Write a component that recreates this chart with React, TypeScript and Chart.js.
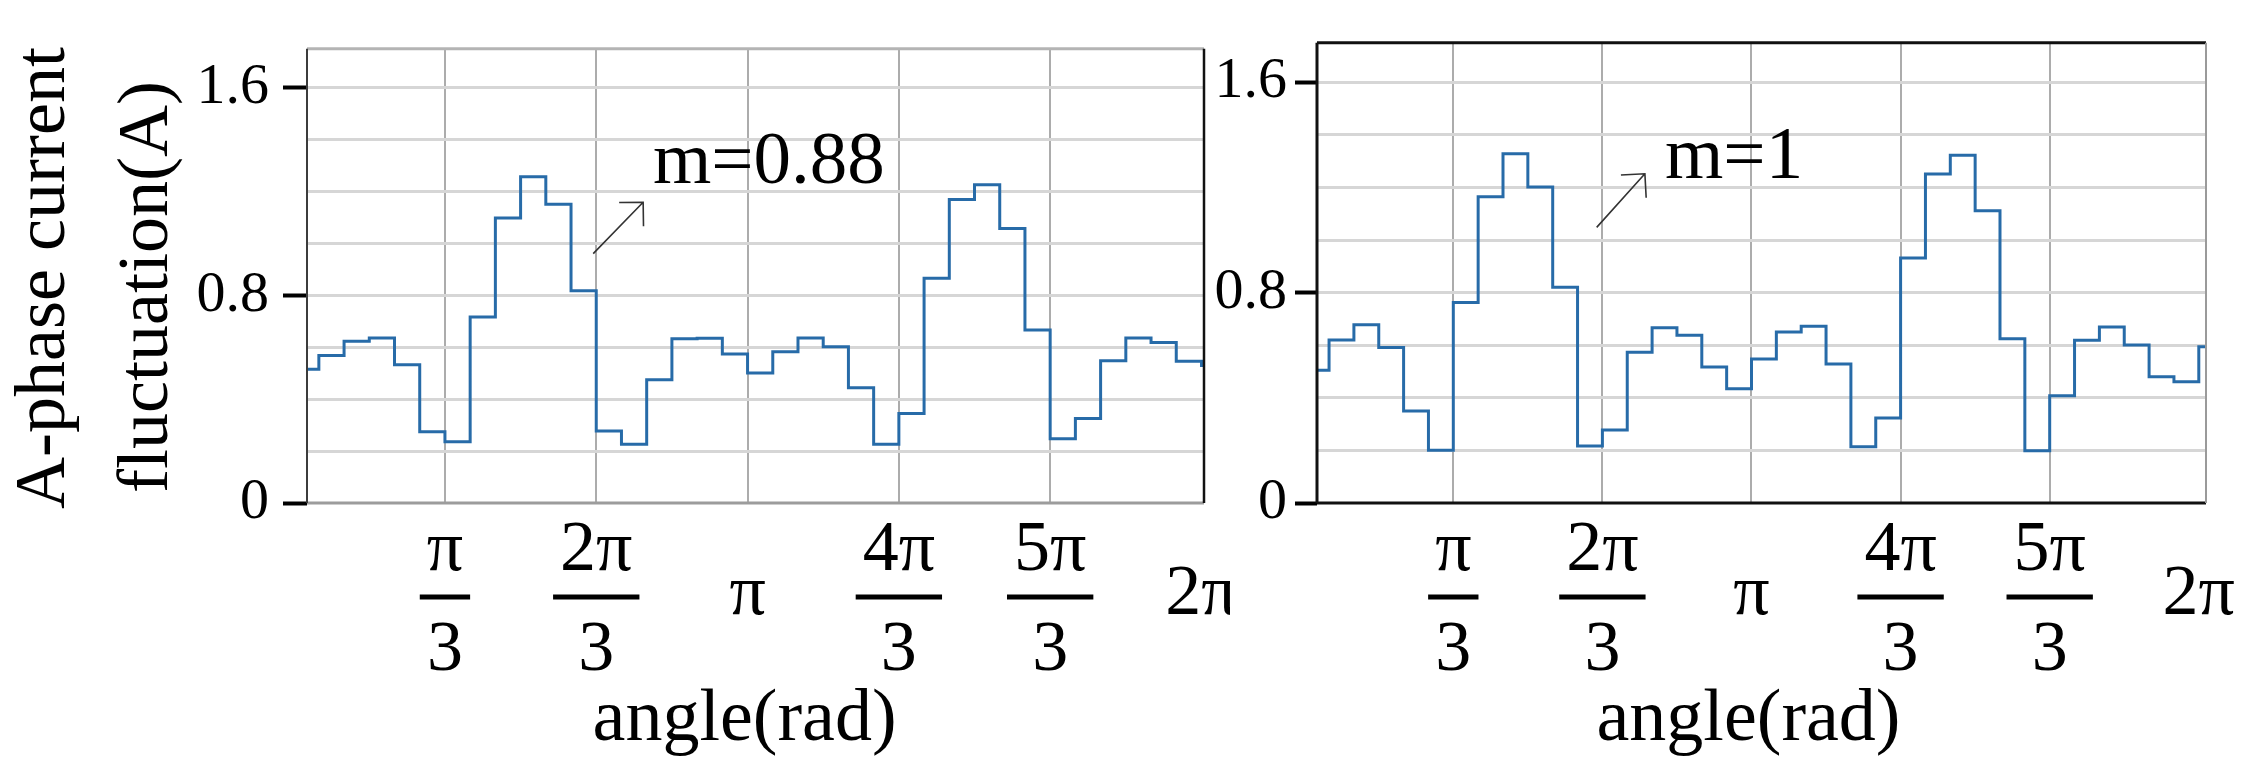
import React, { useEffect, useRef } from "react";
import { Chart, registerables } from "chart.js";

Chart.register(...registerables);

// ---------- data ----------
// step edges of the sampled current (degrees of electrical angle, 10° per step)
const angleEdgesDeg = [
  0, 10, 20, 30, 40, 50, 60, 70, 80, 90, 100, 110, 120, 130, 140, 150, 160, 170, 180,
  190, 200, 210, 220, 230, 240, 250, 260, 270, 280, 290, 300, 310, 320, 330, 340, 350, 360, 370,
];

// A-phase current fluctuation (A), m = 0.88
const currentM088 = [
  0.515, 0.568, 0.623, 0.636, 0.533, 0.275, 0.236, 0.717, 1.098, 1.257, 1.151, 0.818,
  0.277, 0.226, 0.475, 0.633, 0.635, 0.574, 0.501, 0.583, 0.636, 0.602, 0.444, 0.226,
  0.345, 0.866, 1.169, 1.226, 1.058, 0.667, 0.248, 0.326, 0.548, 0.636, 0.618, 0.546, 0.53,
];

// A-phase current fluctuation (A), m = 1
const currentM1 = [
  0.505, 0.62, 0.678, 0.591, 0.35, 0.201, 0.762, 1.165, 1.328, 1.202, 0.82, 0.217,
  0.278, 0.573, 0.666, 0.638, 0.517, 0.434, 0.548, 0.65, 0.672, 0.529, 0.214, 0.323,
  0.932, 1.251, 1.322, 1.111, 0.625, 0.199, 0.408, 0.619, 0.669, 0.601, 0.48, 0.461, 0.594,
];

const xTickDeg = [60, 120, 180, 240, 300, 360];
const xTickNumerators = ["π", "2π", "π", "4π", "5π", "2π"];
const xTickDenominators = ["3", "3", "", "3", "3", ""];

const yGridValues = [0, 0.2, 0.4, 0.6, 0.8, 1.0, 1.2, 1.4, 1.6];
const yLabelValues = [0, 0.8, 1.6];
const yLabels = ["0", "0.8", "1.6"];
const yMax = 1.75;

const leftXRange = [5.3, 361];
const rightXRange = [5.15, 362.9];

const xTitle = "angle(rad)";
const yTitleLines = ["A-phase current", "fluctuation(A)"];

const leftAnnotation = { label: "m=0.88", text: [142.5, 1.233], from: [118.8, 0.961], to: [138.6, 1.159] };
const rightAnnotation = { label: "m=1", text: [145.2, 1.234], from: [117.7, 1.048], to: [137.1, 1.252] };

// ---------- style ----------
const FONT = "'Liberation Serif', 'Times New Roman', serif";
const LINE_COLOR = "#276ba8";
const GRID_H = "#d6d6d6";
const GRID_V = "#acacac";
const CLEAR = "rgba(0,0,0,0)";
const H = 775;
const AREA_TOP = 33;
const AREA_BOTTOM = 503;

const decorPlugin = {
  id: "decor",
  afterDraw(chart: any, _args: any, o: any) {
    const { ctx, chartArea: a } = chart;
    const xs = chart.scales.x;
    const ys = chart.scales.y;
    ctx.save();

    const side = (st: [string, number], x1: number, y1: number, x2: number, y2: number) => {
      ctx.strokeStyle = st[0];
      ctx.lineWidth = st[1];
      ctx.beginPath();
      ctx.moveTo(x1, y1);
      ctx.lineTo(x2, y2);
      ctx.stroke();
    };
    const b = o.borders;
    side(b.top, a.left, a.top, a.right, a.top);
    side(b.bottom, a.left, a.bottom, a.right, a.bottom);
    side(b.left, a.left, a.top, a.left, a.bottom);
    side(b.right, a.right, a.top, a.right, a.bottom);

    // x tick labels (fractions of pi)
    ctx.fillStyle = "#000";
    ctx.textAlign = "center";
    ctx.textBaseline = "alphabetic";
    ctx.font = `72px ${FONT}`;
    xTickDeg.forEach((v, i) => {
      const px = xs.getPixelForValue(v);
      const num = xTickNumerators[i];
      const den = xTickDenominators[i];
      if (den) {
        ctx.fillText(num, px, 570);
        ctx.fillText(den, px, 670);
        const w = Math.max(ctx.measureText(num).width, ctx.measureText(den).width) + 14;
        ctx.fillRect(px - w / 2, 594.5, w, 5);
      } else {
        ctx.fillText(num, px, 614);
      }
    });

    // x title
    ctx.font = `74px ${FONT}`;
    ctx.fillText(o.xTitle, xs.getPixelForValue(180) - 3, 740);

    // y title
    if (o.yTitle) {
      ctx.font = `72px ${FONT}`;
      o.yTitle.forEach((t: string, i: number) => {
        ctx.save();
        ctx.translate(o.yTitleX[i], o.yTitleY[i]);
        ctx.rotate(-Math.PI / 2);
        ctx.textAlign = "center";
        ctx.fillText(t, 0, 0);
        ctx.restore();
      });
    }

    // annotation arrow + label
    const an = o.annotation;
    const x0 = xs.getPixelForValue(an.from[0]);
    const y0 = ys.getPixelForValue(an.from[1]);
    const x1 = xs.getPixelForValue(an.to[0]);
    const y1 = ys.getPixelForValue(an.to[1]);
    ctx.strokeStyle = "#333";
    ctx.lineWidth = 1.6;
    ctx.beginPath();
    ctx.moveTo(x0, y0);
    ctx.lineTo(x1, y1);
    const ang = Math.atan2(y0 - y1, x0 - x1);
    const L = 24;
    ctx.moveTo(x1 + L * Math.cos(ang + Math.PI / 4), y1 + L * Math.sin(ang + Math.PI / 4));
    ctx.lineTo(x1, y1);
    ctx.lineTo(x1 + L * Math.cos(ang - Math.PI / 4), y1 + L * Math.sin(ang - Math.PI / 4));
    ctx.stroke();
    ctx.font = `75px ${FONT}`;
    ctx.textAlign = "left";
    ctx.fillText(an.label, xs.getPixelForValue(an.text[0]), ys.getPixelForValue(an.text[1]));

    ctx.restore();
  },
};

type PanelCfg = {
  left: number;
  width: number;
  areaLeft: number;
  padRight: number;
  values: number[];
  xRange: number[];
  tickLen: number;
  tickPad: number;
  decor: any;
};

function buildConfig(cfg: PanelCfg): any {
  const n = cfg.values.length;
  return {
    type: "line",
    data: {
      datasets: [
        {
          data: angleEdgesDeg.map((x, i) => ({ x, y: cfg.values[Math.min(i, n - 1)] })),
          stepped: "before",
          borderColor: LINE_COLOR,
          borderWidth: 3,
          pointRadius: 0,
          fill: false,
          tension: 0,
        },
      ],
    },
    options: {
      animation: false,
      responsive: false,
      maintainAspectRatio: false,
      events: [],
      layout: {
        autoPadding: false,
        padding: { left: 0, top: AREA_TOP, right: cfg.padRight, bottom: 0 },
      },
      plugins: {
        legend: { display: false },
        tooltip: { enabled: false },
        decor: cfg.decor,
      },
      scales: {
        x: {
          type: "linear",
          min: cfg.xRange[0],
          max: cfg.xRange[1],
          border: { display: false },
          afterBuildTicks: (s: any) => {
            s.ticks = xTickDeg.map((v) => ({ value: v }));
          },
          ticks: { display: false },
          grid: {
            color: (c: any) => (c.tick && c.tick.value === 360 ? CLEAR : GRID_V),
            lineWidth: 2,
            drawTicks: false,
          },
          afterFit: (s: any) => {
            s.height = H - AREA_BOTTOM;
          },
        },
        y: {
          type: "linear",
          min: 0,
          max: yMax,
          border: { display: false },
          afterBuildTicks: (s: any) => {
            s.ticks = yGridValues.map((v) => ({ value: v }));
          },
          ticks: {
            autoSkip: false,
            padding: cfg.tickPad,
            color: "#000",
            font: { family: FONT, size: 58 },
            callback: (v: number) => {
              const i = yLabelValues.indexOf(v);
              return i >= 0 ? yLabels[i] : "";
            },
          },
          grid: {
            color: (c: any) => (c.tick && c.tick.value === 0 ? CLEAR : GRID_H),
            lineWidth: 3,
            drawTicks: true,
            tickLength: cfg.tickLen,
            tickWidth: 4,
            tickColor: (c: any) => (c.tick && yLabelValues.includes(c.tick.value) ? "#000" : CLEAR),
          },
          afterFit: (s: any) => {
            s.width = cfg.areaLeft;
          },
        },
      },
    },
    plugins: [decorPlugin],
  };
}

function Panel({ cfg }: { cfg: PanelCfg }) {
  const ref = useRef<HTMLCanvasElement>(null);
  useEffect(() => {
    if (!ref.current) return;
    const chart = new Chart(ref.current, buildConfig(cfg));
    return () => chart.destroy();
  }, [cfg]);
  return (
    <canvas
      ref={ref}
      width={cfg.width}
      height={H}
      style={{ position: "absolute", left: cfg.left, top: 0, width: cfg.width, height: H }}
    />
  );
}

const leftCfg: PanelCfg = {
  left: 0,
  width: 1230,
  areaLeft: 307,
  padRight: 1230 - 1204,
  values: currentM088,
  xRange: leftXRange,
  tickLen: 24,
  tickPad: 14,
  decor: {
    borders: {
      top: ["#b4b4b4", 3],
      bottom: ["#9c9c9c", 3],
      left: ["#3c3c3c", 2],
      right: ["#111111", 2.5],
    },
    xTitle,
    yTitle: yTitleLines,
    yTitleX: [64, 167],
    yTitleY: [278, 287],
    annotation: leftAnnotation,
  },
};

const rightCfg: PanelCfg = {
  left: 1150,
  width: 1103,
  areaLeft: 1317 - 1150,
  padRight: 2253 - 2206,
  values: currentM1,
  xRange: rightXRange,
  tickLen: 22,
  tickPad: 8,
  decor: {
    borders: {
      top: ["#111111", 3],
      bottom: ["#111111", 3],
      left: ["#111111", 3],
      right: ["#9a9a9a", 2],
    },
    xTitle,
    yTitle: null,
    annotation: rightAnnotation,
  },
};

export default function App() {
  return (
    <div
      style={{
        position: "absolute",
        left: 0,
        top: 0,
        width: 2253,
        height: H,
        background: "#ffffff",
        overflow: "hidden",
      }}
    >
      <Panel cfg={leftCfg} />
      <Panel cfg={rightCfg} />
    </div>
  );
}
